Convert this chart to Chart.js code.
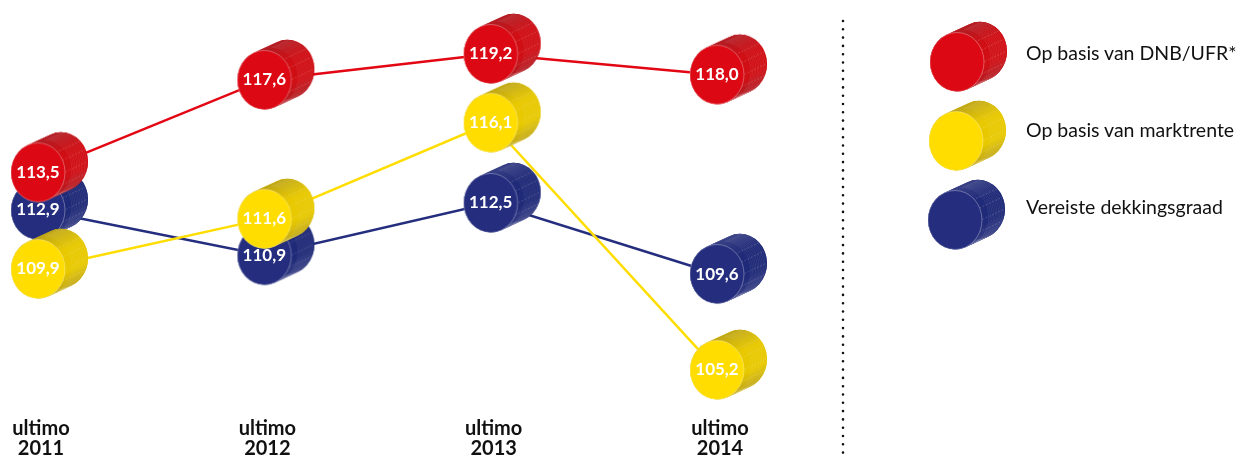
<!DOCTYPE html>
<html lang="nl">
<head>
<meta charset="utf-8">
<title>Dekkingsgraad</title>
<script src="https://cdn.jsdelivr.net/npm/chart.js@4"></script>
<style>
  html, body { margin: 0; padding: 0; background: #fff; }
  #wrap { position: relative; width: 1245px; height: 457px; overflow: hidden; }
  #wrap > canvas { display: block; }
  .legend-icon { position: absolute; }
  .legend-text { position: absolute; left: 1026px; font: 400 19.5px Lato, sans-serif; color: #111; white-space: nowrap; line-height: 24px; }
</style>
</head>
<body>
<div id="wrap"><canvas id="chart" width="1245" height="457"></canvas></div>
<script>
const years = ["2011", "2012", "2013", "2014"];
const seriesNames = ["Op basis van DNB/UFR*", "Op basis van marktrente", "Vereiste dekkingsgraad"];

// Printed values
const redValues = [113.5, 117.6, 119.2, 118.0];
const yellowValues = [109.9, 111.6, 116.1, 105.2];
const blueValues = [112.9, 110.9, 112.5, 109.6];

// The original is not drawn to scale (112,9 sits below 112,5), so the height
// of each mark is read off the picture separately from the number printed on it
const redHeights = [113.93, 117.99, 119.13, 118.22];
const yellowHeights = [109.69, 111.89, 116.11, 105.26];
const blueHeights = [112.28, 110.29, 112.59, 109.47];

const RED = { face: "#dc0814", line: "#e30613", dark: "#ab2026", mid: "#d00f15" };
const YELLOW = { face: "#ffdd00", line: "#ffdd00", dark: "#b8a01c", mid: "#e8c900" };
const BLUE = { face: "#252e7e", line: "#252e7e", dark: "#3d4488", mid: "#1f2a78" };

// Cylinder drawn on its own canvas, with the front face in the exact middle
// so Chart.js centres the face on the data point
function makeCylinder(col) {
  const c = document.createElement("canvas");
  c.width = 106;
  c.height = 88;
  const ctx = c.getContext("2d");
  const cx = 53, cy = 44, rx = 27, ry = 29.5, dx = 23, dy = -10.7;

  // body outline: front ellipse, back ellipse and the two tangents between them
  const ang = Math.atan2(dy / ry, dx / rx) + Math.PI / 2;
  const body = new Path2D();
  body.ellipse(cx, cy, rx, ry, 0, ang, ang + Math.PI);
  body.ellipse(cx + dx, cy + dy, rx, ry, 0, ang + Math.PI, ang + 2 * Math.PI);
  body.closePath();

  ctx.save();
  ctx.fillStyle = col.mid;
  ctx.fill(body);
  ctx.clip(body);
  const x0 = cx + dx / 2 - 14, y0 = cy + dy / 2 - 30;
  const g = ctx.createLinearGradient(x0, y0, x0 + 28, y0 + 60);
  g.addColorStop(0, col.dark);
  g.addColorStop(0.4, col.mid);
  g.addColorStop(0.72, col.mid);
  g.addColorStop(1, col.dark);
  ctx.fillStyle = g;
  ctx.fillRect(0, 0, c.width, c.height);

  // fine rings around the barrel, only towards its far end
  ctx.lineWidth = 0.5;
  ctx.strokeStyle = "rgba(255,255,255,0.16)";
  for (let k = 0.3; k < 1; k += 0.07) {
    ctx.beginPath();
    ctx.ellipse(cx + dx * k, cy + dy * k, rx, ry, 0, -Math.PI / 2, Math.PI / 2);
    ctx.stroke();
  }

  // dashed highlights along the barrel
  ctx.setLineDash([2, 1.5]);
  ctx.strokeStyle = "rgba(255,255,255,0.35)";
  [-20, -9, 4, 15].forEach(off => {
    ctx.beginPath();
    ctx.moveTo(cx + 18, cy + off);
    ctx.lineTo(cx + 18 + dx + 8, cy + off + dy - 4);
    ctx.stroke();
  });
  ctx.restore();

  ctx.beginPath();
  ctx.ellipse(cx, cy, rx, ry, 0, 0, 2 * Math.PI);
  ctx.fillStyle = col.face;
  ctx.fill();
  ctx.lineWidth = 0.7;
  ctx.strokeStyle = "rgba(255,255,255,0.45)";
  ctx.stroke();
  return c;
}

function makeDataset(name, heights, values, col, order) {
  return {
    label: name,
    data: heights,
    printed: values,
    order: order,
    borderColor: col.line,
    borderWidth: 2.5,
    tension: 0,
    fill: false,
    clip: false,
    pointStyle: makeCylinder(col),
    pointRadius: 30
  };
}

// Numbers on the cylinder faces
const faceLabels = {
  id: "faceLabels",
  afterDatasetDraw(chart, args) {
    const ds = chart.data.datasets[args.index];
    const ctx = chart.ctx;
    ctx.save();
    ctx.font = "700 17px Lato, sans-serif";
    ctx.fillStyle = "#fff";
    ctx.textAlign = "center";
    ctx.textBaseline = "middle";
    args.meta.data.forEach((pt, i) => {
      ctx.fillText(ds.printed[i].toFixed(1).replace(".", ","), pt.x, pt.y);
    });
    ctx.restore();
  }
};

// Dotted divider between plot and legend
const divider = {
  id: "divider",
  afterDraw(chart) {
    const ctx = chart.ctx;
    ctx.save();
    ctx.beginPath();
    ctx.setLineDash([0, 8.3]);
    ctx.lineCap = "round";
    ctx.lineWidth = 2.6;
    ctx.strokeStyle = "#111";
    ctx.moveTo(843, 21);
    ctx.lineTo(843, 456);
    ctx.stroke();
    ctx.restore();
  }
};

new Chart(document.getElementById("chart"), {
  type: "line",
  data: {
    labels: years.map(y => ["ultimo", y]),
    datasets: [
      makeDataset(seriesNames[0], redHeights, redValues, RED, 2),
      makeDataset(seriesNames[1], yellowHeights, yellowValues, YELLOW, 1),
      makeDataset(seriesNames[2], blueHeights, blueValues, BLUE, 3)
    ]
  },
  options: {
    responsive: false,
    animation: false,
    layout: { autoPadding: false, padding: { left: 38, right: 528, top: 0, bottom: 0 } },
    plugins: { legend: { display: false }, tooltip: { enabled: false } },
    scales: {
      x: {
        offset: false,
        grid: { display: false, drawTicks: false },
        border: { display: false },
        afterFit(scale) { scale.height = 47; },
        ticks: {
          padding: 9,
          maxRotation: 0,
          autoSkip: false,
          labelOffset: 3,
          color: "#111",
          font: { family: "Lato, sans-serif", weight: "700", size: 20, lineHeight: 1 }
        }
      },
      y: { display: false, min: 103.5, max: 121.5 }
    }
  },
  plugins: [faceLabels, divider]
});

// Legend
const wrap = document.getElementById("wrap");
[RED, YELLOW, BLUE].forEach((col, i) => {
  const icon = makeCylinder(col);
  icon.className = "legend-icon";
  icon.style.left = (957 - i - 53) + "px";
  icon.style.top = (62 + i * 79 - 44) + "px";
  wrap.appendChild(icon);
  const txt = document.createElement("div");
  txt.className = "legend-text";
  txt.textContent = seriesNames[i];
  txt.style.top = (53 + i * 77 - 12) + "px";
  wrap.appendChild(txt);
});
</script>
</body>
</html>
